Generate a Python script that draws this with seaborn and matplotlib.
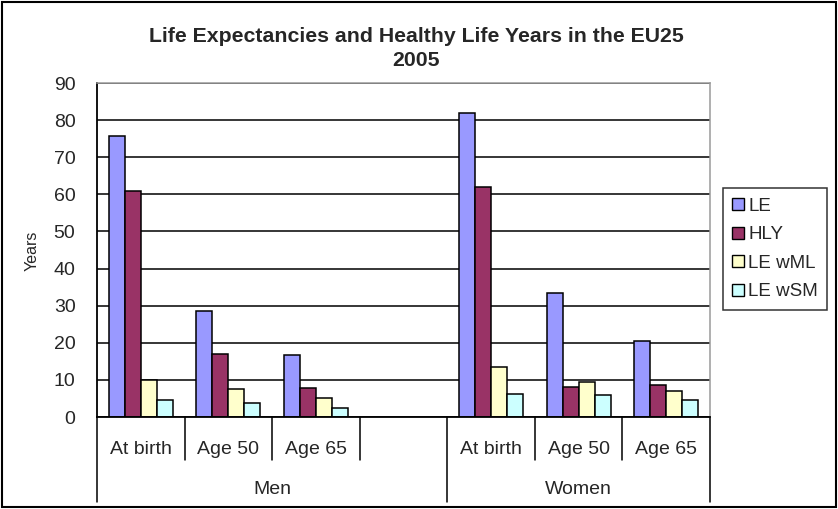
import matplotlib
matplotlib.use("Agg")
import matplotlib.pyplot as plt
import matplotlib.transforms as mtransforms
from matplotlib.patches import Rectangle
import seaborn as sns
import pandas as pd

# ---- data ----
groups = ["Men", "Women"]
ages = ["At birth", "Age 50", "Age 65"]
series = ["LE", "HLY", "LE wML", "LE wSM"]
le_men = [75.8, 28.6, 16.6]
le_women = [81.9, 33.4, 20.5]
hly_men = [60.8, 17.1, 7.9]
hly_women = [62.0, 8.1, 8.5]
wml_men = [9.9, 7.5, 5.2]
wml_women = [13.5, 9.4, 6.9]
wsm_men = [4.7, 3.8, 2.5]
wsm_women = [6.3, 5.8, 4.7]
colors = ["#9999FF", "#993366", "#FFFFCC", "#CCFFFF"]
title = "Life Expectancies and Healthy Life Years in the EU25\n2005"
ylabel = "Years"
yticks = list(range(0, 100, 10))

values = {
    ("Men", "LE"): le_men, ("Women", "LE"): le_women,
    ("Men", "HLY"): hly_men, ("Women", "HLY"): hly_women,
    ("Men", "LE wML"): wml_men, ("Women", "LE wML"): wml_women,
    ("Men", "LE wSM"): wsm_men, ("Women", "LE wSM"): wsm_women,
}
rows = []
for g in groups:
    for s in series:
        for a, v in zip(ages, values[(g, s)]):
            rows.append({"cat": f"{g}|{a}", "series": s, "val": v})
df = pd.DataFrame(rows)
order = [f"Men|{a}" for a in ages] + ["Men|blank"] + [f"Women|{a}" for a in ages]

sns.set_style("white")
plt.rcParams["font.family"] = ["Liberation Sans", "DejaVu Sans"]

W, H = 838, 509
fig = plt.figure(figsize=(W / 100, H / 100), dpi=100)
fig.patch.set_facecolor("white")
ax = fig.add_axes([97 / W, 1 - 417 / H, (710 - 97) / W, (417 - 83) / H])

sns.barplot(data=df, x="cat", y="val", hue="series", order=order,
            hue_order=series, palette=colors, width=0.73,
            edgecolor="black", linewidth=1.1, errorbar=None, ax=ax,
            saturation=1)

ax.set_xlim(-0.5, len(order) - 0.5)
ax.set_ylim(0, 90)
ax.set_yticks(yticks)
ax.set_yticklabels([str(t) for t in yticks], fontsize=14)
ax.tick_params(axis="y", direction="inout", length=7, width=1.1, pad=12, color="black")
ax.yaxis.grid(True, color="black", linewidth=1.1)
ax.set_axisbelow(True)
ax.set_xticks([])
ax.set_xlabel("")
ax.set_ylabel("")
for side in ["left", "bottom"]:
    ax.spines[side].set_color("black")
    ax.spines[side].set_linewidth(1.3)
for side in ["top", "right"]:
    ax.spines[side].set_color("#9a9a9a")
    ax.spines[side].set_linewidth(1.1)

# multi-level category axis
trans = mtransforms.blended_transform_factory(ax.transData, ax.transAxes)
ah = 417 - 83
short = -(460 - 417) / ah
long_ = -(502 - 417) / ah
for b in [0.5, 1.5, 2.5, 4.5, 5.5]:
    ax.plot([b, b], [0, short], color="black", lw=1.1, transform=trans, clip_on=False)
for b in [-0.5, 3.5, 6.5]:
    ax.plot([b, b], [0, long_], color="black", lw=1.1, transform=trans, clip_on=False)
for i, cat in enumerate(order):
    lab = cat.split("|")[1]
    if lab == "blank":
        continue
    ax.text(i, -(450 - 417) / ah, lab, transform=trans, ha="center", va="center",
            fontsize=14)
ax.text(1.5, -(490 - 417) / ah, groups[0], transform=trans, ha="center", va="center", fontsize=14)
ax.text(5.0, -(490 - 417) / ah, groups[1], transform=trans, ha="center", va="center", fontsize=14)

# y label
fig.text(32 / W, 1 - 251 / H, ylabel, rotation=90, ha="center", va="center", fontsize=11.5)

# title
fig.text(416 / W, 1 - 48.5 / H, title, ha="center", va="center", fontsize=15.3,
         fontweight="bold", linespacing=1.27)

# legend
handles, labels = ax.get_legend_handles_labels()
for h in handles:
    h.set_edgecolor("black")
    h.set_linewidth(1.0)
leg = ax.legend(handles, labels, loc="center left",
                bbox_to_anchor=(723 / W, 1 - 249 / H), bbox_transform=fig.transFigure,
                fontsize=13.5, frameon=True, fancybox=False, shadow=False,
                handlelength=0.6, handleheight=0.6, handletextpad=0.25,
                labelspacing=0.62, borderpad=0.5, borderaxespad=0)
leg.get_frame().set_edgecolor("black")
leg.get_frame().set_linewidth(1.1)

# outer border
fig.patches.append(Rectangle((2 / W, 2 / H), 1 - 4 / W, 1 - 4 / H, transform=fig.transFigure,
                             fill=False, edgecolor="black", linewidth=1.5))

fig.savefig("out.png", dpi=100, facecolor="white")
